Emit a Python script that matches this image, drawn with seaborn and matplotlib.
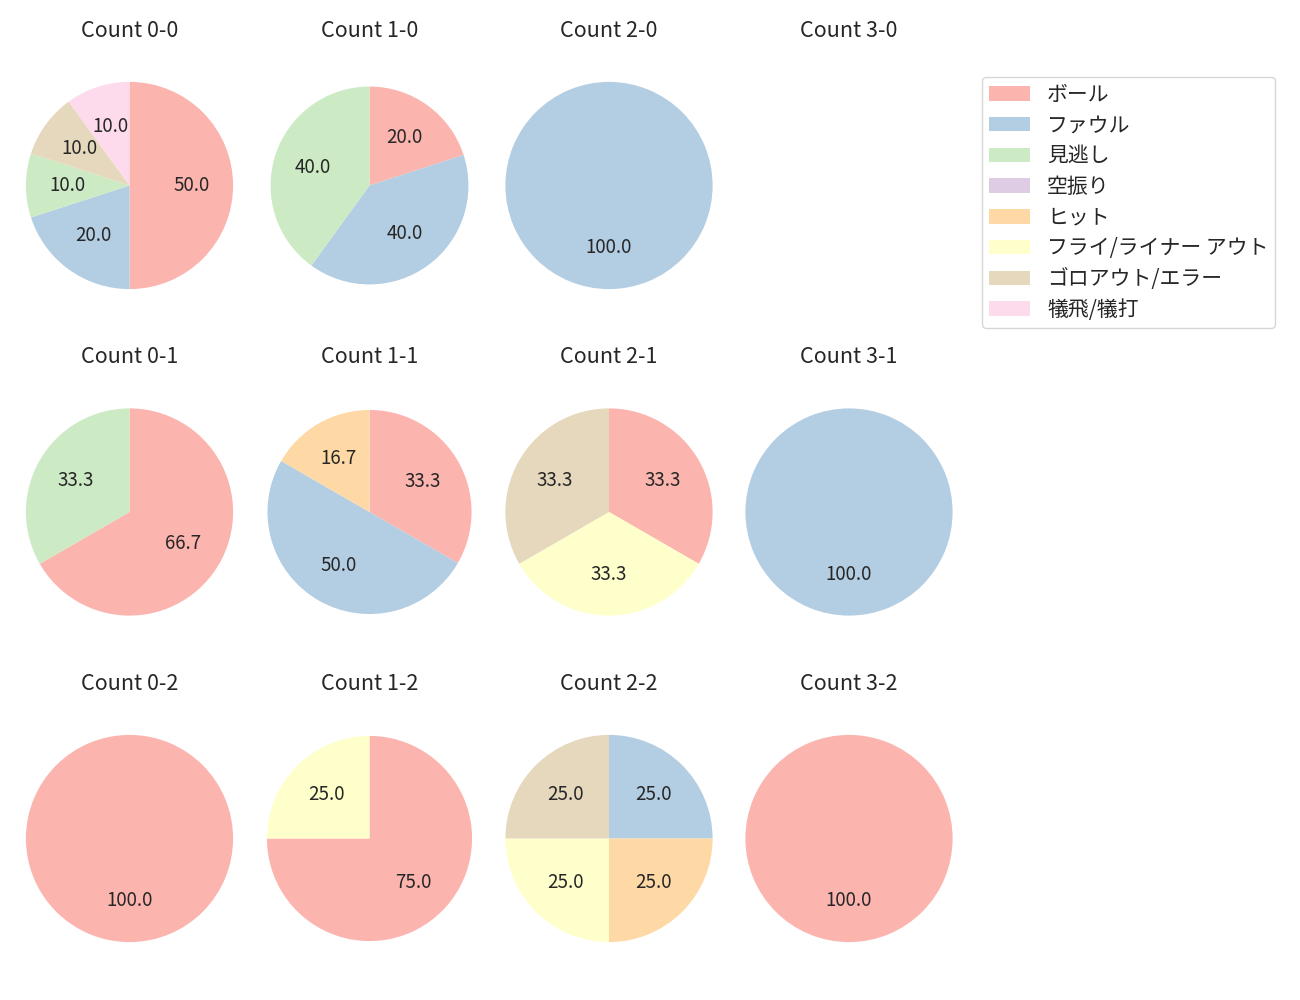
import matplotlib
matplotlib.use("Agg")
import matplotlib.pyplot as plt
from matplotlib.patches import Patch
import seaborn as sns

sns.set_style("white")
plt.rcParams['font.family'] = ['Noto Sans CJK JP', 'DejaVu Sans']

categories = ["ボール", "ファウル", "見逃し", "空振り", "ヒット",
              "フライ/ライナー アウト", "ゴロアウト/エラー", "犠飛/犠打"]

# counts per category for each ball-strike count (order matches categories)
count_0_0 = [5, 2, 1, 0, 0, 0, 1, 1]
count_1_0 = [1, 2, 2, 0, 0, 0, 0, 0]
count_2_0 = [0, 1, 0, 0, 0, 0, 0, 0]
count_3_0 = [0, 0, 0, 0, 0, 0, 0, 0]
count_0_1 = [2, 0, 1, 0, 0, 0, 0, 0]
count_1_1 = [2, 3, 0, 0, 1, 0, 0, 0]
count_2_1 = [1, 0, 0, 0, 0, 1, 1, 0]
count_3_1 = [0, 1, 0, 0, 0, 0, 0, 0]
count_0_2 = [1, 0, 0, 0, 0, 0, 0, 0]
count_1_2 = [3, 0, 0, 0, 0, 1, 0, 0]
count_2_2 = [0, 1, 0, 0, 1, 1, 1, 0]
count_3_2 = [1, 0, 0, 0, 0, 0, 0, 0]

grid = [
    [("Count 0-0", count_0_0), ("Count 1-0", count_1_0), ("Count 2-0", count_2_0), ("Count 3-0", count_3_0)],
    [("Count 0-1", count_0_1), ("Count 1-1", count_1_1), ("Count 2-1", count_2_1), ("Count 3-1", count_3_1)],
    [("Count 0-2", count_0_2), ("Count 1-2", count_1_2), ("Count 2-2", count_2_2), ("Count 3-2", count_3_2)],
]

colors = sns.color_palette("Pastel1", 8)

W, H = 1300, 1000
fig = plt.figure(figsize=(13, 10), dpi=100)

col_centers = [129.5, 369.5, 609, 849]
row_centers = [185.5, 512, 838.5]
side = 259  # axes box size in pixels
# slight per-panel radius differences seen in the reference layout
radius_scale = {(0, 1): 0.955, (1, 1): 0.985, (2, 1): 0.99}

for r, row in enumerate(grid):
    for c, (title, vals) in enumerate(row):
        cx, cy = col_centers[c], row_centers[r]
        ax = fig.add_axes([(cx - side / 2) / W, 1 - (cy + side / 2) / H, side / W, side / H])
        sel = [(v, colors[i]) for i, v in enumerate(vals) if v > 0]
        if sel:
            ax.pie([v for v, _ in sel], colors=[col for _, col in sel],
                   startangle=90, counterclock=False, autopct="%.1f",
                   pctdistance=0.6, radius=radius_scale.get((r, c), 1.0),
                   wedgeprops={"linewidth": 0},
                   textprops={"fontsize": 13.5})
            ax.set_xlim(-1.25, 1.25)
            ax.set_ylim(-1.25, 1.25)
            ax.set_aspect("equal")
        ax.axis("off")
        ax.set_title(title, fontsize=15.5, pad=14)

handles = [Patch(facecolor=colors[i], label=categories[i], linewidth=0) for i in range(len(categories))]
fig.legend(handles=handles, loc="upper left", bbox_to_anchor=(982 / W, 1 - 77 / H),
           borderaxespad=0, fontsize=15, labelspacing=0.42, borderpad=0.32, frameon=True)

fig.savefig("out.png", dpi=100)
